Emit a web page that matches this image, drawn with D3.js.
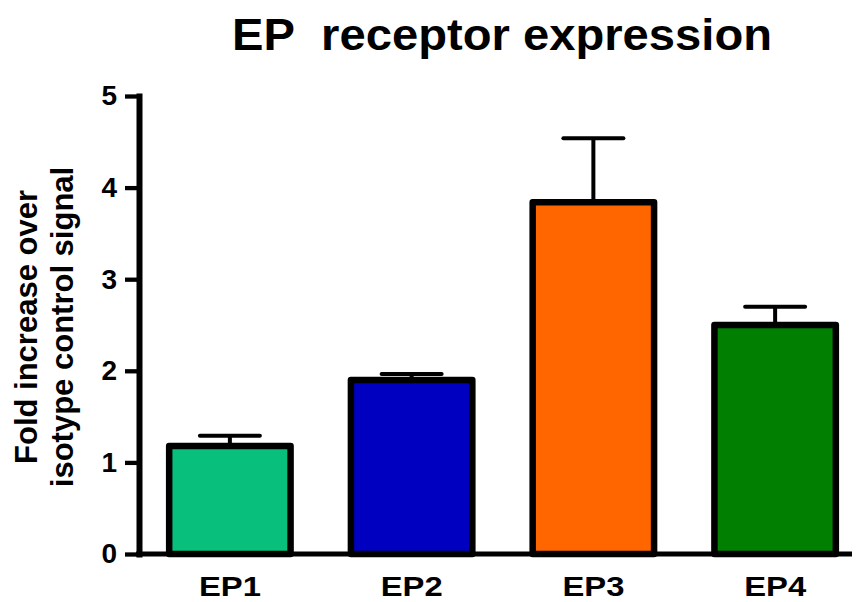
<!DOCTYPE html>
<html>
<head>
<meta charset="utf-8">
<script src="https://cdn.jsdelivr.net/npm/d3@7"></script>
<style>
  html, body { margin: 0; padding: 0; background: #fff; }
  svg { display: block; }
  text { font-family: "Liberation Sans", Arial, sans-serif; font-weight: bold; fill: #000; }
</style>
</head>
<body>
<svg id="chart" width="856" height="602"></svg>
<script>
// Receptor subtypes, mean fold increase and upper error (SEM)
const categories = ["EP1", "EP2", "EP3", "EP4"];
const means = [1.18, 1.90, 3.84, 2.50];
const errors = [0.11, 0.065, 0.70, 0.20];
const barColors = ["#08c07c", "#0000c0", "#ff6600", "#007f00"];
const yTicks = [0, 1, 2, 3, 4, 5];
const titleText = "EP\u00a0\u00a0receptor expression";
const yLabelLines = ["Fold increase over", "isotype control signal"];

const svg = d3.select("#chart");

const x = d3.scaleBand()
  .domain(categories)
  .range([139, 866])
  .paddingInner(0.332)
  .paddingOuter(0.166);

const y = d3.scaleLinear().domain([0, 5]).range([554, 96]);

// Title (slightly wide bold lettering)
svg.append("text")
  .attr("x", 502)
  .attr("y", 50)
  .attr("text-anchor", "middle")
  .attr("textLength", 540)
  .attr("lengthAdjust", "spacingAndGlyphs")
  .style("font-size", "45px")
  .text(titleText);

// Y axis title (two lines, rotated)
const yl = svg.append("text")
  .attr("transform", "translate(0,327) rotate(-90)")
  .attr("text-anchor", "middle")
  .style("font-size", "31px");
yl.append("tspan").attr("x", 0).attr("y", 37).text(yLabelLines[0]);
yl.append("tspan").attr("x", 0).attr("y", 73).text(yLabelLines[1]);

// Bars
svg.append("g").selectAll("rect")
  .data(categories)
  .join("rect")
  .attr("x", d => x(d))
  .attr("y", (d, i) => y(means[i]))
  .attr("width", x.bandwidth())
  .attr("height", (d, i) => y(0) - y(means[i]))
  .attr("fill", (d, i) => barColors[i])
  .attr("stroke", "#000")
  .attr("stroke-width", 6.5)
  .attr("stroke-linejoin", "round");

// Upper error bars
const eb = svg.append("g").attr("stroke", "#000");
eb.selectAll("line.stem")
  .data(categories)
  .join("line")
  .attr("class", "stem")
  .attr("x1", d => x(d) + x.bandwidth() / 2)
  .attr("x2", d => x(d) + x.bandwidth() / 2)
  .attr("y1", (d, i) => y(means[i]))
  .attr("y2", (d, i) => y(means[i] + errors[i]))
  .attr("stroke-width", 4);
eb.selectAll("line.cap")
  .data(categories)
  .join("line")
  .attr("class", "cap")
  .attr("x1", d => x(d) + x.bandwidth() / 2 - 30)
  .attr("x2", d => x(d) + x.bandwidth() / 2 + 30)
  .attr("y1", (d, i) => y(means[i] + errors[i]))
  .attr("y2", (d, i) => y(means[i] + errors[i]))
  .attr("stroke-width", 4)
  .attr("stroke-linecap", "round");

// X axis baseline
svg.append("line")
  .attr("x1", 136).attr("x2", 852)
  .attr("y1", y(0)).attr("y2", y(0))
  .attr("stroke", "#000")
  .attr("stroke-width", 5);

// X axis labels
const xAxis = svg.append("g")
  .attr("transform", `translate(0,${y(0)})`)
  .call(d3.axisBottom(x).tickSize(0).tickPadding(22));
xAxis.select(".domain").remove();
xAxis.selectAll("text")
  .style("font-family", "'Liberation Sans', Arial, sans-serif")
  .style("font-weight", "bold")
  .style("font-size", "28px")
  .attr("textLength", 62)
  .attr("lengthAdjust", "spacingAndGlyphs")
  .attr("fill", "#000");

// Y axis
const yAxis = svg.append("g")
  .attr("transform", "translate(139,0)")
  .call(d3.axisLeft(y).tickValues(yTicks).tickFormat(d3.format("d"))
    .tickSize(14).tickSizeOuter(0).tickPadding(8));
yAxis.select(".domain")
  .attr("stroke", "#000")
  .attr("stroke-width", 6)
  .attr("stroke-linecap", "square");
yAxis.selectAll(".tick line")
  .attr("stroke", "#000")
  .attr("stroke-width", 4.3);
yAxis.selectAll(".tick text")
  .style("font-family", "'Liberation Sans', Arial, sans-serif")
  .style("font-weight", "bold")
  .style("font-size", "28px")
  .attr("fill", "#000");
</script>
</body>
</html>
